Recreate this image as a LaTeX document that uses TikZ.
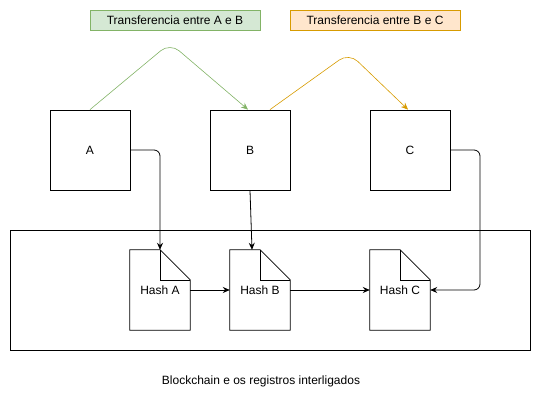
\documentclass[tikz,border=0pt]{standalone}
\usepackage{fontspec}
\setmainfont{Liberation Sans}
\usetikzlibrary{arrows.meta}

\definecolor{abFill}{HTML}{D5E8D4}
\definecolor{abDraw}{HTML}{82B366}
\definecolor{bcFill}{HTML}{FFE6CC}
\definecolor{bcDraw}{HTML}{D79B00}

\begin{document}
\begin{tikzpicture}[
        % 1 px = 1 pt, y grows downwards
        x=1pt, y=-1pt,
        font=\fontsize{12}{14}\selectfont,
        account/.style={draw, thick, minimum width=80pt, minimum height=80pt, inner sep=0pt},
        hashdoc/.style={minimum width=60pt, minimum height=80pt, inner sep=0pt},
        docline/.style={thick, line join=miter},
        tagAB/.style={draw=abDraw, fill=abFill, thick, minimum width=170pt, minimum height=20pt, inner sep=0pt},
        tagBC/.style={draw=bcDraw, fill=bcFill, thick, minimum width=170pt, minimum height=20pt, inner sep=0pt},
        link/.style={-{Stealth[length=7pt,width=6pt]}, thick, rounded corners=6pt},
        flowAB/.style={-{Stealth[length=7pt,width=6pt]}, abDraw, semithick, rounded corners=12pt},
        flowBC/.style={-{Stealth[length=7pt,width=6pt]}, bcDraw, semithick, rounded corners=12pt}
    ]

    % --- parametros ---
    \def\fold{30pt}   % dobra do documento

    \useasboundingbox (0,0) rectangle (541,401);

    % --- 1. etiquetas das transferencias ---
    \node[tagAB] (tab) at (175,20) {Transferencia entre A e B};
    \node[tagBC] (tbc) at (375,20) {Transferencia entre B e C};

    % --- 2. contas ---
    \node[account] (A) at (90,150) {A};
    \node[account] (B) at (250,150) {B};
    \node[account] (C) at (410,150) {C};

    % --- 3. bloco da blockchain ---
    \draw[thick] (10,230) rectangle (530,350);

    % --- 4. registros (hashes) ---
    \foreach \name/\xx/\txt in {ha/160/Hash A, hb/260/Hash B, hc/400/Hash C} {
        \node[hashdoc] (\name) at (\xx,290) {\txt};
        \draw[docline, fill=white] (\name.south west) -- (\name.north west)
            -- ([xshift=-\fold]\name.north east) -- ([yshift=-\fold]\name.north east)
            -- (\name.south east) -- cycle;
        \draw[semithick] ([xshift=-\fold]\name.north east) |- ([yshift=-\fold]\name.north east);
        \node at (\name) {\txt};
    }

    % --- 5. transferencias entre contas ---
    \coordinate (pkab) at (170,43);
    \coordinate (pkbc) at (349,53);
    \draw[flowAB] (A.north) -- (pkab) -- ([xshift=-2pt]B.north);
    \draw[flowBC] ([xshift=20pt]B.north) -- (pkbc) -- ([xshift=-2pt]C.north);

    % --- 6. contas -> registros ---
    \draw[link] (A.east) -| (ha.north);
    \draw[link] (B.south) -- ([xshift=-8pt]hb.north);
    \draw[link] (C.east) -| (480,290) -- (hc.east);

    % --- 7. encadeamento dos registros ---
    \draw[link] (ha.east) -- (hb.west);
    \draw[link] (hb.east) -- (hc.west);

    % --- 8. legenda ---
    \node (caption) at (261,381) {Blockchain e os registros interligados};

\end{tikzpicture}
\end{document}
